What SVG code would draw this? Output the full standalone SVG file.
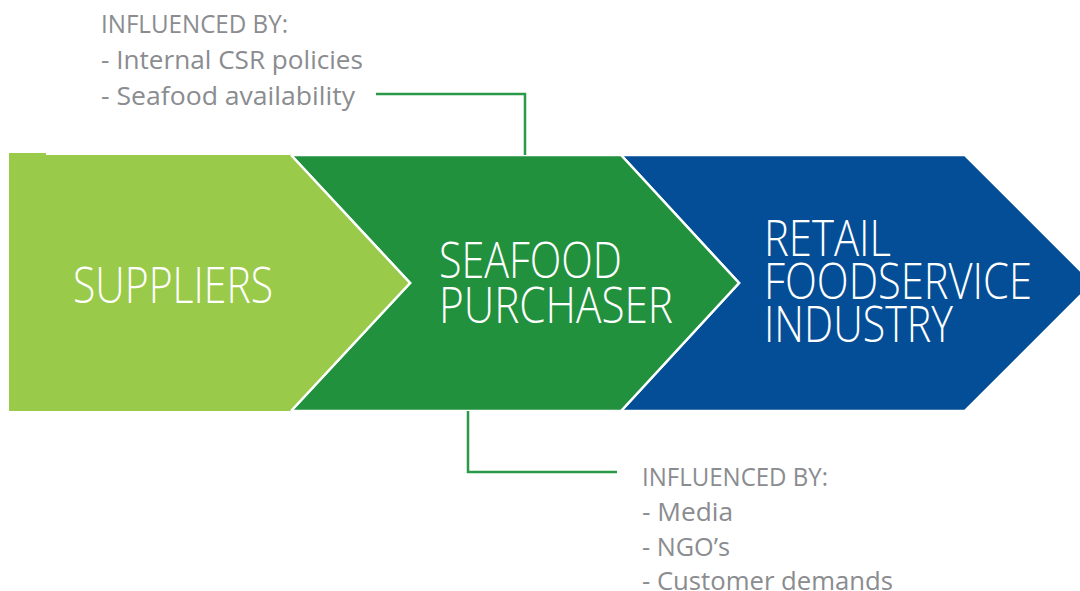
<svg xmlns="http://www.w3.org/2000/svg" width="1080" height="591" viewBox="0 0 1080 591">
<style>
.big{font-family:"Open Sans","Liberation Sans",sans-serif;font-weight:300;font-size:50px;fill:#ffffff}
.note{font-family:"Open Sans","Liberation Sans",sans-serif;font-weight:400;font-size:26px;fill:#8a8c8f}
.chev{stroke:#ffffff;stroke-width:2.5;stroke-linejoin:miter}
.conn{fill:none;stroke:#2a9a48;stroke-width:2.5}
</style>
<rect width="1080" height="591" fill="#ffffff"/>
<g id="retail">
<polygon class="chev" points="621,155 965,155 1093,283 965,411 621,411 739,283" fill="#034e96"/>
<text class="big" x="764" y="256" textLength="127" lengthAdjust="spacingAndGlyphs">RETAIL</text>
<text class="big" x="764" y="299" textLength="268" lengthAdjust="spacingAndGlyphs">FOODSERVICE</text>
<text class="big" x="764" y="342" textLength="189" lengthAdjust="spacingAndGlyphs">INDUSTRY</text>
</g>
<g id="purchaser">
<polygon class="chev" points="291,155 621,155 739,283 621,411 291,411 410,283" fill="#21913e"/>
<text class="big" x="439" y="278" textLength="183" lengthAdjust="spacingAndGlyphs">SEAFOOD</text>
<text class="big" x="439" y="323" textLength="234" lengthAdjust="spacingAndGlyphs">PURCHASER</text>
</g>
<g id="suppliers">
<rect x="9" y="153" width="37" height="3" fill="#9aca4a"/>
<polygon points="9,155 291,155 410,283 291,411 9,411" fill="#9aca4a"/>
<polyline points="291,155 410,283 291,411" fill="none" stroke="#ffffff" stroke-width="2.5"/>
<text class="big" x="73" y="303" textLength="200" lengthAdjust="spacingAndGlyphs">SUPPLIERS</text>
</g>
<g id="connectors">
<polyline class="conn" points="376,94 525,94 525,155"/>
<polyline class="conn" points="468,411 468,472 617,472"/>
</g>
<g id="note-top">
<text class="note" x="101" y="33" textLength="187" lengthAdjust="spacingAndGlyphs">INFLUENCED BY:</text>
<text class="note" x="101" y="69" textLength="262" lengthAdjust="spacingAndGlyphs">- Internal CSR policies</text>
<text class="note" x="101" y="105" textLength="254" lengthAdjust="spacingAndGlyphs">- Seafood availability</text>
</g>
<g id="note-bottom">
<text class="note" x="642" y="486" textLength="186" lengthAdjust="spacingAndGlyphs">INFLUENCED BY:</text>
<text class="note" x="642" y="521" textLength="91" lengthAdjust="spacingAndGlyphs">- Media</text>
<text class="note" x="642" y="556" textLength="88" lengthAdjust="spacingAndGlyphs">- NGO’s</text>
<text class="note" x="642" y="590" textLength="251" lengthAdjust="spacingAndGlyphs">- Customer demands</text>
</g>
</svg>
